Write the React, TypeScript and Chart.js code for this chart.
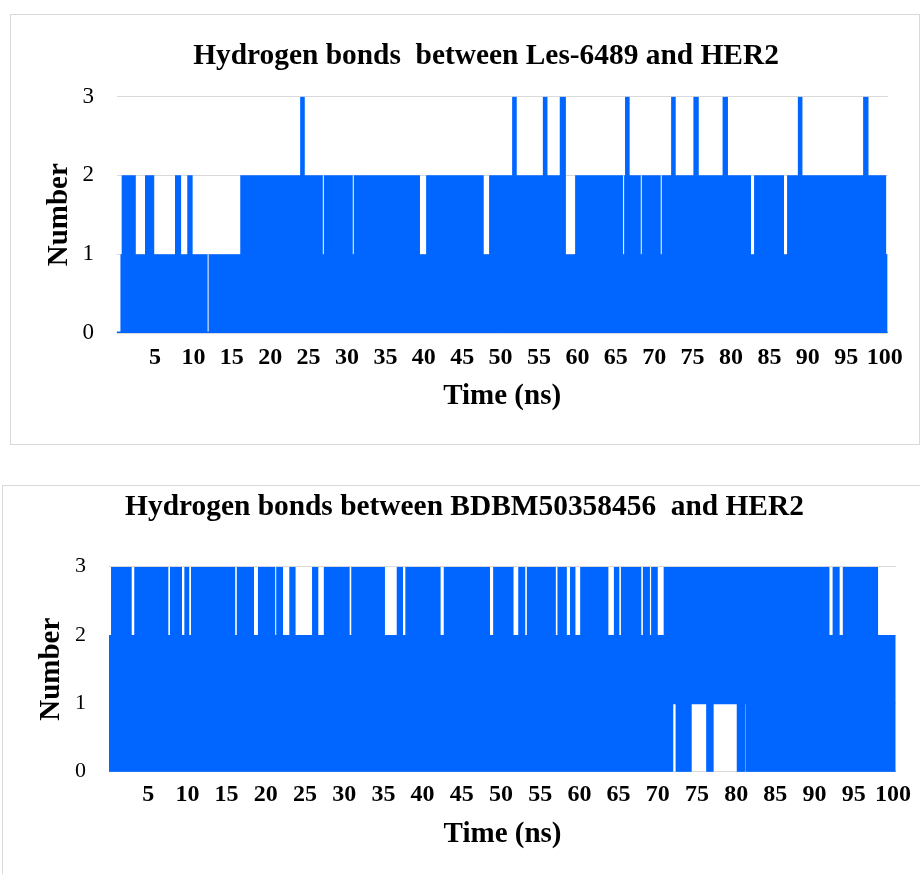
import React, { useEffect, useRef } from 'react';
import { Chart, registerables } from 'chart.js';

Chart.register(...registerables);

const BLUE = '#0066FF';
const GRID = '#d9d9d9';
const FONT = "'Liberation Serif', 'Times New Roman', serif";

// ---- Chart 1: Les-6489 / HER2 — upper envelope of H-bond count (value holds from time until next time)
const lesTimes = [0, 0.5, 0.66, 2.5, 3.7, 4.9, 7.6, 8.4, 9.2, 9.9, 11.85, 11.98, 16.1, 23.9, 24.5, 26.85, 26.98, 30.75, 30.88, 39.5, 40.3, 47.8, 48.5, 51.5, 52.1, 55.5, 56.1, 57.7, 58.5, 59.7, 65.95, 66.08, 66.2, 66.8, 68.25, 68.38, 70.85, 70.98, 72.2, 72.8, 75.1, 75.8, 78.9, 79.6, 82.6, 83.0, 86.9, 87.3, 88.7, 89.3, 97.2, 97.9, 100.2, 100.4];
const lesMax = [0, 1, 2, 1, 2, 1, 2, 1, 2, 1, 0, 1, 2, 3, 2, 1, 2, 1, 2, 1, 2, 1, 2, 3, 2, 3, 2, 3, 1, 2, 1, 2, 3, 2, 1, 2, 1, 2, 3, 2, 3, 2, 3, 2, 1, 2, 1, 2, 3, 2, 3, 2, 1, 1];
// lower envelope
const lesMinTimes = [0, 100.4];
const lesMin = [0, 0];

// ---- Chart 2: BDBM50358456 / HER2
const bdbTimes = [0, 0.26, 2.9, 3.22, 7.57, 7.78, 9.31, 9.61, 10.24, 10.46, 16.1, 16.3, 18.5, 19.0, 21.2, 21.33, 22.2, 23.0, 23.8, 25.9, 26.7, 27.4, 30.7, 30.9, 35.2, 36.7, 37.5, 37.8, 42.3, 42.7, 48.6, 49.0, 51.6, 52.2, 53.1, 53.3, 57.0, 57.2, 58.4, 58.8, 59.5, 60.1, 63.7, 64.4, 65.1, 65.3, 67.9, 68.1, 69.0, 69.15, 70.0, 70.75, 91.9, 92.3, 93.2, 93.6, 98.1, 100.35];
const bdbMax = [2, 3, 2, 3, 2, 3, 2, 3, 2, 3, 2, 3, 2, 3, 2, 3, 2, 3, 2, 3, 2, 3, 2, 3, 2, 3, 2, 3, 2, 3, 2, 3, 2, 3, 2, 3, 2, 3, 2, 3, 2, 3, 2, 3, 2, 3, 2, 3, 2, 3, 2, 3, 2, 3, 2, 3, 2, 2];
const bdbMinTimes = [0, 71.85, 72.4, 74.2, 76.3, 77.0, 80.2, 81.0, 81.3, 100.35];
const bdbMin = [0, 1, 0, 1, 0, 1, 0, 1, 0, 0];

// ---- axes
const xTickValues = [5, 10, 15, 20, 25, 30, 35, 40, 45, 50, 55, 60, 65, 70, 75, 80, 85, 90, 95, 100];
const yTickValues = [0, 1, 2, 3];
const X_MAX = 100.4;
const Y_MAX = 3;
const xAxisTitle = 'Time (ns)';
const yAxisTitle = 'Number';
const title1 = 'Hydrogen bonds  between Les-6489 and HER2';
const title2 = 'Hydrogen bonds between BDBM50358456  and HER2';

type Pad = { top: number; bottom: number };
type Cfg = {
  times: number[];
  maxV: number[];
  minTimes: number[];
  minV: number[];
  width: number;
  height: number;
  padding: { top: number; left: number; right: number; bottom: number };
  xTickPad: number;
  xTitlePad: Pad;
  xAxisHeight: number;
  yTickPad: number;
  yTitlePad: Pad;
  yAxisWidth: number;
  xTickSize: number;
  yTickSize: number;
  lowerWidth: number;
};

function HBondChart(p: Cfg) {
  const ref = useRef<HTMLCanvasElement>(null);
  useEffect(() => {
    const c = ref.current;
    if (!c) return;
    const chart = new Chart(c, {
      type: 'line',
      data: {
        datasets: [
          {
            data: p.times.map((t, i) => ({ x: t, y: p.maxV[i] })),
            stepped: true,
            fill: '+1',
            backgroundColor: BLUE,
            borderColor: BLUE,
            borderWidth: 0,
            pointRadius: 0,
            pointHoverRadius: 0,
          },
          {
            data: p.minTimes.map((t, i) => ({ x: t, y: p.minV[i] })),
            stepped: true,
            fill: false,
            backgroundColor: BLUE,
            borderColor: BLUE,
            borderWidth: p.lowerWidth,
            pointRadius: 0,
            pointHoverRadius: 0,
          },
        ],
      },
      options: {
        animation: false,
        responsive: false,
        events: [],
        layout: { padding: p.padding },
        plugins: {
          legend: { display: false },
          tooltip: { enabled: false },
          title: { display: false },
        },
        scales: {
          x: {
            type: 'linear',
            min: 0,
            max: X_MAX,
            grid: { display: false, drawTicks: false },
            border: { display: false },
            afterBuildTicks: (s: any) => {
              s.ticks = xTickValues.map((v) => ({ value: v }));
            },
            afterFit: (s: any) => {
              s.height = p.xAxisHeight;
            },
            ticks: {
              padding: p.xTickPad,
              autoSkip: false,
              maxRotation: 0,
              color: '#000',
              font: { family: FONT, size: p.xTickSize, weight: 'bold' },
            },
            title: {
              display: true,
              text: xAxisTitle,
              color: '#000',
              font: { family: FONT, size: 29, weight: 'bold' },
              padding: p.xTitlePad,
            },
          },
          y: {
            type: 'linear',
            min: 0,
            max: Y_MAX,
            grid: { color: GRID, lineWidth: 1, drawTicks: false },
            border: { display: false },
            afterBuildTicks: (s: any) => {
              s.ticks = yTickValues.map((v) => ({ value: v }));
            },
            afterFit: (s: any) => {
              s.width = p.yAxisWidth;
            },
            ticks: {
              padding: p.yTickPad,
              color: '#000',
              font: { family: FONT, size: p.yTickSize, weight: 'normal' },
            },
            title: {
              display: true,
              text: yAxisTitle,
              color: '#000',
              font: { family: FONT, size: 29, weight: 'bold' },
              padding: p.yTitlePad,
            },
          },
        },
      } as any,
    });
    return () => chart.destroy();
  }, []);
  return (
    <canvas
      ref={ref}
      width={p.width}
      height={p.height}
      style={{ display: 'block', width: p.width, height: p.height }}
    />
  );
}

const titleStyle = (left: number, top: number): React.CSSProperties => ({
  position: 'absolute',
  left,
  top,
  width: 900,
  textAlign: 'center',
  fontFamily: FONT,
  fontSize: 29.4,
  lineHeight: '29px',
  fontWeight: 'bold',
  whiteSpace: 'pre',
  color: '#000',
});

export default function App() {
  return (
    <div
      style={{
        position: 'absolute',
        left: 0,
        top: 0,
        width: 920,
        height: 874,
        overflow: 'hidden',
        background: '#fff',
      }}
    >
      <div
        style={{
          position: 'absolute',
          left: 10,
          top: 14,
          width: 910,
          height: 431,
          boxSizing: 'border-box',
          border: `1px solid ${GRID}`,
        }}
      />
      <div style={{ position: 'absolute', left: 11, top: 15 }}>
        <HBondChart
          times={lesTimes}
          maxV={lesMax}
          minTimes={lesMinTimes}
          minV={lesMin}
          width={907}
          height={428}
          padding={{ top: 81.5, left: 10, right: 30.3, bottom: 0.6 }}
          xTickPad={10.6}
          xTitlePad={{ top: 7.2, bottom: 28 }}
          xAxisHeight={109.4}
          yTickPad={22.6}
          yTitlePad={{ top: 21.6, bottom: 5.1 }}
          yAxisWidth={95.6}
          xTickSize={24}
          yTickSize={23}
          lowerWidth={3}
        />
      </div>
      <div style={titleStyle(36, 39.5)}>{title1}</div>

      <div
        style={{
          position: 'absolute',
          left: 2,
          top: 485,
          width: 930,
          height: 400,
          boxSizing: 'border-box',
          border: `1px solid ${GRID}`,
        }}
      />
      <div style={{ position: 'absolute', left: 3, top: 486 }}>
        <HBondChart
          times={bdbTimes}
          maxV={bdbMax}
          minTimes={bdbMinTimes}
          minV={bdbMin}
          width={917}
          height={388}
          padding={{ top: 80.7, left: 10, right: 23.9, bottom: 0.6 }}
          xTickPad={8.9}
          xTitlePad={{ top: 8.2, bottom: 21 }}
          xAxisHeight={101.7}
          yTickPad={23}
          yTitlePad={{ top: 21.5, bottom: 5.7 }}
          yAxisWidth={96}
          xTickSize={24}
          yTickSize={22}
          lowerWidth={2}
        />
      </div>
      <div style={titleStyle(14.5, 490.5)}>{title2}</div>
    </div>
  );
}
